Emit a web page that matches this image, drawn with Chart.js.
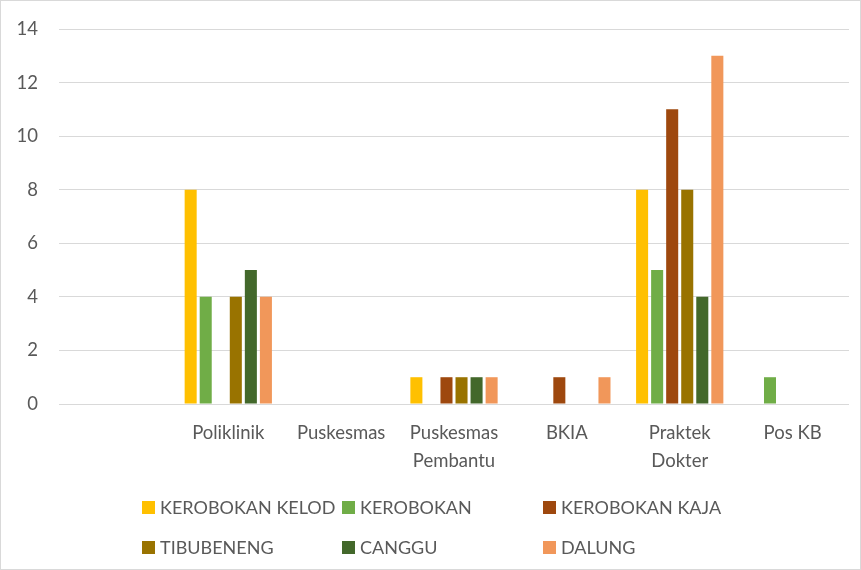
<!DOCTYPE html>
<html>
<head>
<meta charset="utf-8">
<script src="https://cdn.jsdelivr.net/npm/chart.js@4.4.0/dist/chart.umd.min.js"></script>
<style>
  body { margin: 0; background: #fff; }
  #wrap { position: relative; width: 861px; height: 570px; box-sizing: border-box; border: 1px solid #d9d9d9; }
  #chart { position: absolute; left: 0; top: 0; }
  #legend { position: absolute; left: 141px; top: 499px; font-family: Lato, sans-serif; font-size: 18px; color: #595959; }
  .item { position: absolute; white-space: nowrap; display: flex; align-items: center; height: 14px; }
  .box { width: 13px; height: 13px; margin-right: 5px; }
</style>
</head>
<body>
<div id="wrap">
  <canvas id="chart" width="861" height="570"></canvas>
  <div id="legend"></div>
</div>
<script>
// categories (first one is empty in the original chart)
const categories = ["", "Poliklinik", "Puskesmas", ["Puskesmas", "Pembantu"], "BKIA", ["Praktek", "Dokter"], "Pos KB"];
const seriesNames = ["KEROBOKAN KELOD", "KEROBOKAN", "KEROBOKAN KAJA", "TIBUBENENG", "CANGGU", "DALUNG"];
const kerobokanKelod = [null, 8, 0, 1, 0, 8, 0];
const kerobokan      = [null, 4, 0, 0, 0, 5, 1];
const kerobokanKaja  = [null, 0, 0, 1, 1, 11, 0];
const tibubeneng     = [null, 4, 0, 1, 0, 8, 0];
const canggu         = [null, 5, 0, 1, 0, 4, 0];
const dalung         = [null, 4, 0, 1, 1, 13, 0];
const yTicks = [0, 2, 4, 6, 8, 10, 12, 14];

const colors = ["#FFC000", "#70AD47", "#9E480E", "#997300", "#43682B", "#F1975A"];
const values = [kerobokanKelod, kerobokan, kerobokanKaja, tibubeneng, canggu, dalung];

const datasets = seriesNames.map((name, i) => ({
    label: name,
    data: values[i],
    backgroundColor: colors[i],
    borderWidth: 0,
    categoryPercentage: 0.8,
    barPercentage: 0.8
}));

const font = { family: "Lato", size: 18.5 };

new Chart(document.getElementById("chart"), {
    type: "bar",
    data: { labels: categories, datasets: datasets },
    options: {
        responsive: false,
        animation: false,
        layout: { padding: { top: 28, right: 13, left: 0, bottom: 0 } },
        plugins: { legend: { display: false }, tooltip: { enabled: false } },
        scales: {
            x: {
                grid: { display: false, drawTicks: false },
                border: { display: false },
                ticks: { color: "#595959", font: { ...font, lineHeight: 1.5 }, padding: 15, maxRotation: 0, autoSkip: false },
                afterFit: s => { s.height = 167; }
            },
            y: {
                min: 0,
                max: 14,
                afterBuildTicks: s => { s.ticks = yTicks.map(v => ({ value: v })); },
                grid: { color: "#d9d9d9", drawTicks: false },
                border: { display: false },
                ticks: { color: "#595959", font: font, padding: 21 },
                afterFit: s => { s.width = 58; s.paddingTop = 0; s.paddingBottom = 0; }
            }
        }
    }
});

// legend laid out in 3 columns like the original
const legend = document.getElementById("legend");
const colX = [0, 200, 401];
seriesNames.forEach((name, i) => {
    const el = document.createElement("div");
    el.className = "item";
    el.style.left = colX[i % 3] + "px";
    el.style.top = (Math.floor(i / 3) * 40) + "px";
    el.innerHTML = '<span class="box" style="background:' + colors[i] + '"></span>' + name;
    legend.appendChild(el);
});
</script>
</body>
</html>
